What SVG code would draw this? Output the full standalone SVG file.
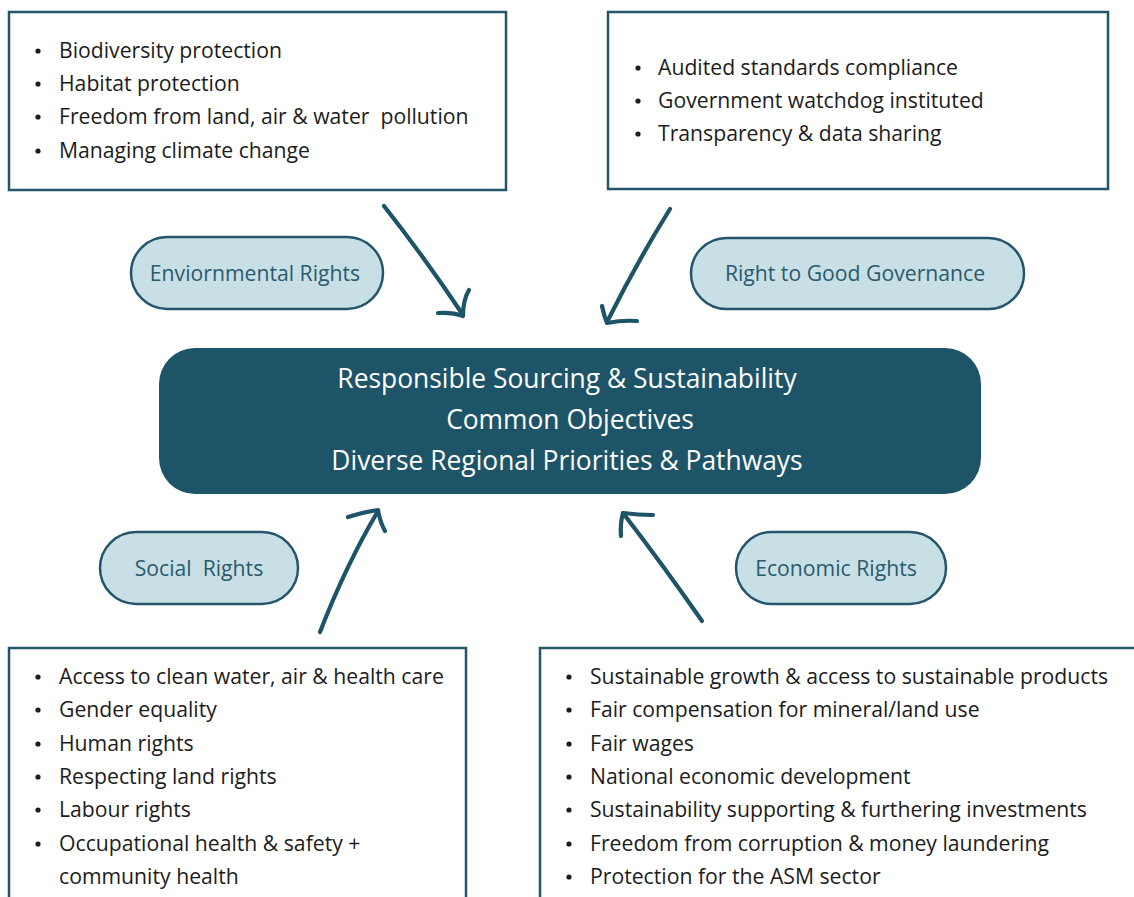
<svg xmlns="http://www.w3.org/2000/svg" width="1134" height="897" viewBox="0 0 1134 897">
  <style>
    .box { fill: #ffffff; stroke: #24566b; stroke-width: 2.5; }
    .pill { fill: #c9dfe6; stroke: #24566b; stroke-width: 2.5; }
    .core { fill: #1d5468; }
    .item { font-family: "Open Sans", "Liberation Sans", sans-serif; font-size: 21.2px; fill: #1c1c1c; }
    .bullet { fill: #1c1c1c; }
    .label { font-family: "Open Sans", "Liberation Sans", sans-serif; font-size: 21.2px; fill: #2a5a6d; text-anchor: middle; }
    .title { font-family: "Open Sans", "Liberation Sans", sans-serif; font-size: 26.4px; fill: #ffffff; text-anchor: middle; }
    .arrow { fill: none; stroke: #1d5468; stroke-width: 4.2; stroke-linecap: round; stroke-linejoin: round; }
  </style>
  <defs>
    <circle id="dot" r="2.6" class="bullet"/>
  </defs>
  <rect width="1134" height="897" fill="#ffffff"/>

  <!-- Environmental items -->
  <g id="env-box">
    <rect class="box" x="9" y="12" width="497" height="178"/>
    <use href="#dot" x="38" y="51"/>
    <use href="#dot" x="38" y="84"/>
    <use href="#dot" x="38" y="117"/>
    <use href="#dot" x="38" y="151"/>
    <text class="item" x="59" y="58">Biodiversity protection</text>
    <text class="item" x="59" y="91">Habitat protection</text>
    <text class="item" x="59" y="124" xml:space="preserve">Freedom from land, air &amp; water  pollution</text>
    <text class="item" x="59" y="158">Managing climate change</text>
  </g>

  <!-- Governance items -->
  <g id="gov-box">
    <rect class="box" x="608" y="12" width="500" height="177"/>
    <use href="#dot" x="638" y="68"/>
    <use href="#dot" x="638" y="101"/>
    <use href="#dot" x="638" y="134"/>
    <text class="item" x="658" y="75">Audited standards compliance</text>
    <text class="item" x="658" y="108">Government watchdog instituted</text>
    <text class="item" x="658" y="141">Transparency &amp; data sharing</text>
  </g>

  <!-- Category pills -->
  <g id="env-pill">
    <rect class="pill" x="131" y="237" width="252" height="72" rx="36"/>
    <text class="label" x="255" y="281">Enviornmental Rights</text>
  </g>
  <g id="gov-pill">
    <rect class="pill" x="691" y="238" width="333" height="71" rx="35.5"/>
    <text class="label" x="855" y="281">Right to Good Governance</text>
  </g>
  <g id="soc-pill">
    <rect class="pill" x="100" y="532" width="198" height="72" rx="36"/>
    <text class="label" x="199" y="576" xml:space="preserve">Social  Rights</text>
  </g>
  <g id="eco-pill">
    <rect class="pill" x="736" y="532" width="210" height="72" rx="36"/>
    <text class="label" x="836" y="576">Economic Rights</text>
  </g>

  <!-- Central objective -->
  <g id="core">
    <rect class="core" x="159" y="348" width="822" height="146" rx="36"/>
    <text class="title" x="567" y="388">Responsible Sourcing &amp; Sustainability</text>
    <text class="title" x="570" y="429">Common Objectives</text>
    <text class="title" x="567" y="470">Diverse Regional Priorities &amp; Pathways</text>
  </g>

  <!-- Social items -->
  <g id="soc-box">
    <rect class="box" x="9" y="648" width="457" height="262"/>
    <use href="#dot" x="38" y="677"/>
    <use href="#dot" x="38" y="710"/>
    <use href="#dot" x="38" y="744"/>
    <use href="#dot" x="38" y="777"/>
    <use href="#dot" x="38" y="810"/>
    <use href="#dot" x="38" y="844"/>
    <text class="item" x="59" y="684">Access to clean water, air &amp; health care</text>
    <text class="item" x="59" y="717">Gender equality</text>
    <text class="item" x="59" y="751">Human rights</text>
    <text class="item" x="59" y="784">Respecting land rights</text>
    <text class="item" x="59" y="817">Labour rights</text>
    <text class="item" x="59" y="851">Occupational health &amp; safety +</text>
    <text class="item" x="59" y="884">community health</text>
  </g>

  <!-- Economic items -->
  <g id="eco-box">
    <rect class="box" x="540" y="648" width="610" height="262"/>
    <use href="#dot" x="569" y="677"/>
    <use href="#dot" x="569" y="710"/>
    <use href="#dot" x="569" y="744"/>
    <use href="#dot" x="569" y="777"/>
    <use href="#dot" x="569" y="810"/>
    <use href="#dot" x="569" y="844"/>
    <use href="#dot" x="569" y="877"/>
    <text class="item" x="590" y="684">Sustainable growth &amp; access to sustainable products</text>
    <text class="item" x="590" y="717">Fair compensation for mineral/land use</text>
    <text class="item" x="590" y="751">Fair wages</text>
    <text class="item" x="590" y="784">National economic development</text>
    <text class="item" x="590" y="817">Sustainability supporting &amp; furthering investments</text>
    <text class="item" x="590" y="851">Freedom from corruption &amp; money laundering</text>
    <text class="item" x="590" y="884">Protection for the ASM sector</text>
  </g>

  <!-- Hand-drawn arrows into the centre -->
  <g id="connectors">
    <path class="arrow" d="M384 206 Q 425 258 463 315"/>
    <path class="arrow" d="M438 313 Q 452 312 463 316 Q 463 300 469 290"/>
    <path class="arrow" d="M670 209 Q 637 262 607 322"/>
    <path class="arrow" d="M602 306 Q 604 316 607 323 Q 622 320 637 321"/>
    <path class="arrow" d="M320 632 Q 346 565 378 511"/>
    <path class="arrow" d="M348 517 Q 364 512 378 510 Q 380 522 385 531"/>
    <path class="arrow" d="M702 621 Q 663 565 623 513"/>
    <path class="arrow" d="M621 536 Q 620 524 623 513 Q 638 515 653 515"/>
  </g>
</svg>
